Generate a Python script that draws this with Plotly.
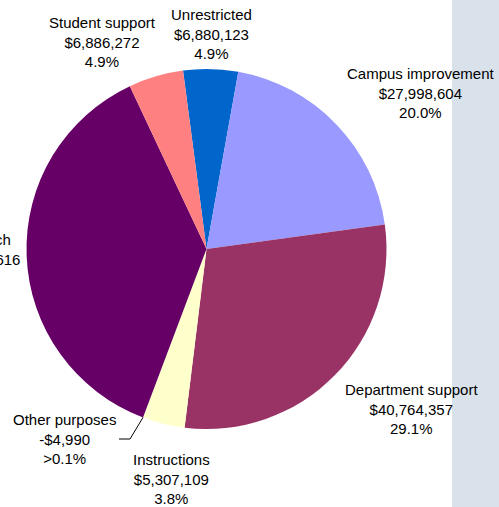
import math
import plotly.graph_objects as go

# ---- data ----
categories = ["Unrestricted", "Campus improvement", "Department support",
              "Instructions", "Other purposes", "Research", "Student support"]
amounts = [6880123, 27998604, 40764357, 5307109, -4990, 52168616, 6886272]
percent_labels = ["4.9%", "20.0%", "29.1%", "3.8%", ">0.1%", "37.3%", "4.9%"]

# ---- styling ----
colors = ["#0066CC", "#9999FF", "#993366", "#FFFFCC", "#FFFFFF", "#660066", "#FF8080"]
W, H = 499, 507
CX, CY, R = 206.5, 249.0, 180.0
ROTATION = -7.5

# label centres (pixels) for each category, in same order
label_pos = [(211, 34), (421, 93), (411.5, 409), (171, 479),
             (64.5, 439), (-22, 259), (102, 42)]


def fmt_money(v):
    return ("-$" if v < 0 else "$") + f"{abs(v):,}"


def px_to_paper(x, y):
    return x / W, 1 - y / H


slice_sizes = [abs(v) for v in amounts]

fig = go.Figure()
fig.add_trace(go.Pie(
    labels=categories,
    values=slice_sizes,
    sort=False,
    direction="clockwise",
    rotation=ROTATION,
    marker=dict(colors=colors, line=dict(width=0)),
    textinfo="none",
    hoverinfo="label+value",
    showlegend=False,
    domain=dict(x=[(CX - R) / W, (CX + R) / W],
                y=[1 - (CY + R) / H, 1 - (CY - R) / H]),
))

annotations = []
for cat, amt, pct, (lx, ly) in zip(categories, amounts, percent_labels, label_pos):
    x, y = px_to_paper(lx, ly)
    annotations.append(dict(
        x=x, y=y, xref="paper", yref="paper",
        text=f"{cat}<br>{fmt_money(amt)}<br>{pct}",
        showarrow=False, xanchor="center", yanchor="middle",
        font=dict(family="Liberation Sans, Arial, sans-serif", size=15, color="#000000"),
        align="center",
    ))

# leader line for the tiny "Other purposes" slice, end point from data angle
total = sum(slice_sizes)
idx = categories.index("Other purposes")
cum = sum(slice_sizes[:idx]) + slice_sizes[idx] / 2
theta = math.radians(ROTATION + cum / total * 360)
ex, ey = CX + R * math.sin(theta), CY - R * math.cos(theta)
p0 = px_to_paper(119, 439)
p1 = px_to_paper(130, 439)
p2 = px_to_paper(ex, ey)

shapes = [
    dict(type="rect", xref="paper", yref="paper", x0=452 / W, x1=1.0, y0=0, y1=1,
         fillcolor="#D9E2EB", line=dict(width=0), layer="below"),
    dict(type="path", xref="paper", yref="paper",
         path=f"M {p0[0]} {p0[1]} L {p1[0]} {p1[1]} L {p2[0]} {p2[1]}",
         line=dict(color="#000000", width=1)),
]

fig.update_layout(
    width=W, height=H,
    margin=dict(l=0, r=0, t=0, b=0),
    paper_bgcolor="#FFFFFF",
    plot_bgcolor="#FFFFFF",
    annotations=annotations,
    shapes=shapes,
    showlegend=False,
)

fig.write_html(
    "out.html",
    config={"displayModeBar": False},
    post_script="document.body.style.margin='0';document.body.style.overflow='hidden';",
)
